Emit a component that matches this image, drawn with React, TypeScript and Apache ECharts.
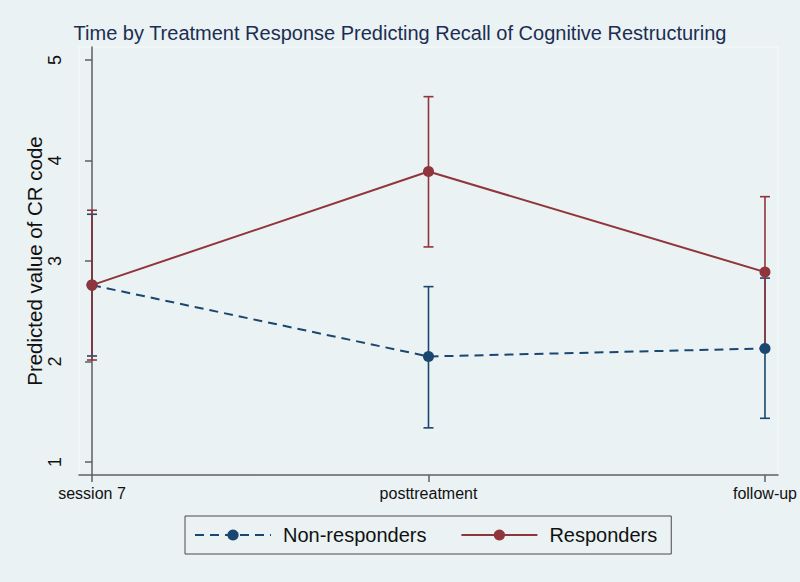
import React, { useEffect, useRef } from "react";
import * as echarts from "echarts";

const categories = ["session 7", "posttreatment", "follow-up"];
const nonResp = [2.76, 2.05, 2.13];
const nonRespLo = [2.055, 1.34, 1.435];
const nonRespHi = [3.465, 2.745, 2.83];
const resp = [2.76, 3.89, 2.89];
const respLo = [2.015, 3.14, 2.14];
const respHi = [3.505, 4.635, 3.64];
const yTicks = [1, 2, 3, 4, 5];
const xTicks = [0, 1, 2];

const NAVY = "#1a476f";
const MAROON = "#90353b";
const FONT = "Liberation Sans, Arial, Helvetica, sans-serif";

function ciSeries(name: string, lo: number[], hi: number[], color: string) {
  return {
    name,
    type: "custom",
    data: lo.map((l, i) => [i, l, hi[i]]),
    renderItem: (params: any, api: any) => {
      const x = api.value(0);
      const pLo = api.coord([x, api.value(1)]);
      const pHi = api.coord([x, api.value(2)]);
      const half = 5;
      const style = { stroke: color, lineWidth: 1.6 };
      return {
        type: "group",
        children: [
          { type: "line", shape: { x1: pLo[0], y1: pLo[1], x2: pHi[0], y2: pHi[1] }, style },
          { type: "line", shape: { x1: pLo[0] - half, y1: pLo[1], x2: pLo[0] + half, y2: pLo[1] }, style },
          { type: "line", shape: { x1: pHi[0] - half, y1: pHi[1], x2: pHi[0] + half, y2: pHi[1] }, style },
        ],
      };
    },
    silent: true,
  };
}

export default function App() {
  const ref = useRef<HTMLDivElement>(null);
  useEffect(() => {
    if (!ref.current) return;
    const chart = echarts.init(ref.current, undefined, { renderer: "svg" });
    chart.setOption({
      animation: false,
      backgroundColor: "#eaf2f3",
      textStyle: { fontFamily: FONT },
      title: {
        text: "Time by Treatment Response Predicting Recall of Cognitive Restructuring",
        left: "center",
        top: 18,
        textStyle: { fontSize: 20, fontWeight: "normal", color: "#1c2d52", fontFamily: FONT },
      },
      grid: {
        left: 79,
        right: 21,
        top: 47,
        bottom: 107,
        show: true,
        backgroundColor: "#eaf2f3",
        borderColor: "#f7fafb",
        borderWidth: 1,
      },
      legend: {
        data: ["Non-responders", "Responders"],
        left: 185,
        top: 516,
        orient: "horizontal",
        itemWidth: 76,
        itemHeight: 14,
        itemGap: 34,
        padding: [9, 14, 9, 9],
        borderColor: "#4a4a4a",
        borderWidth: 1,
        textStyle: { fontSize: 20, color: "#111", fontFamily: FONT, padding: [0, 0, 0, 7] },
      },
      xAxis: {
        type: "value",
        min: -0.0386,
        max: 2.0386,
        splitLine: { show: false },
        axisLine: { show: true, lineStyle: { color: "#5f5f5f", width: 1.5 } },
        axisTick: { show: true, length: 7, customValues: xTicks, lineStyle: { color: "#5f5f5f", width: 1.5 } },
        axisLabel: {
          customValues: xTicks,
          formatter: (v: number) => categories[Math.round(v)],
          fontSize: 16,
          color: "#111",
          margin: 10,
          fontFamily: FONT,
        },
      },
      yAxis: {
        type: "value",
        min: 0.871,
        max: 5.129,
        name: "Predicted value of CR code",
        nameLocation: "middle",
        nameRotate: 90,
        nameGap: 34,
        nameMoveOverlap: false,
        nameTextStyle: { fontSize: 20.5, color: "#111", fontFamily: FONT },
        splitLine: { show: false },
        axisLine: { show: true, lineStyle: { color: "#5f5f5f", width: 1.5 } },
        axisTick: { show: true, length: 7, customValues: yTicks, lineStyle: { color: "#5f5f5f", width: 1.5 } },
        axisLabel: {
          customValues: yTicks,
          rotate: 90,
          fontSize: 18,
          color: "#111",
          margin: 15,
          fontFamily: FONT,
        },
      },
      series: [
        ciSeries("Non-responders CI", nonRespLo, nonRespHi, NAVY),
        ciSeries("Responders CI", respLo, respHi, MAROON),
        {
          name: "Non-responders",
          type: "line",
          data: nonResp.map((v, i) => [i, v]),
          symbol: "circle",
          symbolSize: 11,
          itemStyle: { color: NAVY },
          lineStyle: { color: NAVY, width: 2, type: [9, 6] },
        },
        {
          name: "Responders",
          type: "line",
          data: resp.map((v, i) => [i, v]),
          symbol: "circle",
          symbolSize: 11,
          itemStyle: { color: MAROON },
          lineStyle: { color: MAROON, width: 2 },
        },
      ],
    });
    return () => chart.dispose();
  }, []);
  return (
    <div
      ref={ref}
      style={{ position: "fixed", left: 0, top: 0, width: 800, height: 582 }}
    />
  );
}
